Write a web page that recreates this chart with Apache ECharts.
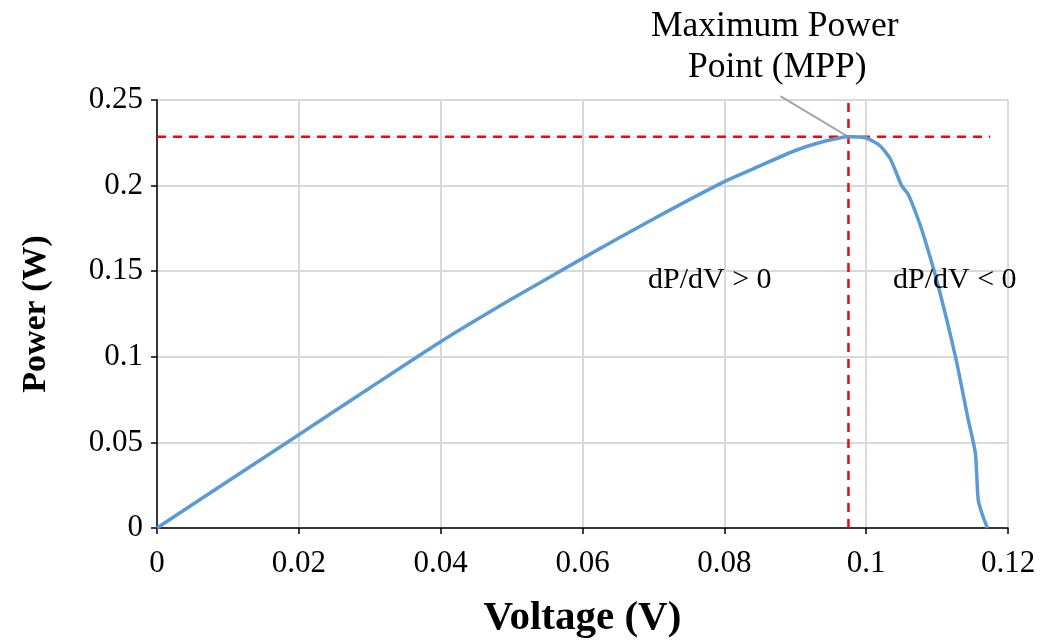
<!DOCTYPE html>
<html>
<head>
<meta charset="utf-8">
<script src="https://cdn.jsdelivr.net/npm/echarts@6/dist/echarts.min.js"></script>
<style>
  html, body { margin: 0; padding: 0; background: #fff; }
  #chart { width: 1047px; height: 641px; }
</style>
</head>
<body>
<div id="chart"></div>
<script>
// P-V curve: [voltage, power]
const pvCurve = [
  [0, 0], [0.01, 0.0273], [0.02, 0.0545], [0.03, 0.0818], [0.04, 0.1088],
  [0.05, 0.1337], [0.06, 0.1575], [0.07, 0.1805], [0.08, 0.2023],
  [0.085, 0.2115], [0.09, 0.2205], [0.0935, 0.2252], [0.0975, 0.2285],
  [0.1, 0.2278], [0.1019, 0.2234], [0.1034, 0.2157], [0.105, 0.2],
  [0.1059, 0.1951], [0.1072, 0.1818], [0.1083, 0.1682], [0.1102, 0.1408],
  [0.1126, 0.0999], [0.1144, 0.0631], [0.1154, 0.0438], [0.1158, 0.0164],
  [0.1165, 0.0064], [0.1171, 0]
]
const mppVertical = [[0.0975, 0], [0.0975, 0.25]]
const mppHorizontal = [[0, 0.2285], [0.1175, 0.2285]]
const leader = [[0.0879, 0.2523], [0.0975, 0.2285]]
const xTicks = [0, 0.02, 0.04, 0.06, 0.08, 0.1, 0.12]
const yTicks = [0, 0.05, 0.1, 0.15, 0.2, 0.25]

const serif = '"Liberation Serif", "Times New Roman", serif'
const chart = echarts.init(document.getElementById('chart'))

const dashed = {
  type: 'line',
  symbol: 'none',
  silent: true,
  lineStyle: { color: '#ff0000', width: 2.5, type: [9, 7] },
  z: 3
}

chart.setOption({
  animation: false,
  textStyle: { fontFamily: serif, color: '#000' },
  grid: { left: 157, right: 39, top: 100, bottom: 113, outerBoundsMode: 'none' },
  xAxis: {
    type: 'value',
    min: 0,
    max: 0.12,
    interval: 0.02,
    name: 'Voltage (V)',
    nameLocation: 'middle',
    nameGap: 70,
    nameTextStyle: { fontFamily: serif, fontSize: 41, fontWeight: 'bold', color: '#000' },
    axisLine: { lineStyle: { color: '#000', width: 1.5 } },
    axisTick: { show: true, length: 6, lineStyle: { color: '#000', width: 1.5 } },
    axisLabel: {
      fontFamily: serif, fontSize: 31, color: '#000', margin: 20,
      formatter: v => xTicks.includes(+v.toFixed(2)) ? String(+v.toFixed(2)) : ''
    },
    splitLine: { show: true, lineStyle: { color: '#d9d9d9', width: 2 } }
  },
  yAxis: {
    type: 'value',
    min: 0,
    max: 0.25,
    interval: 0.05,
    name: 'Power (W)',
    nameLocation: 'middle',
    nameGap: 104,
    nameTextStyle: { fontFamily: serif, fontSize: 34, fontWeight: 'bold', color: '#000' },
    axisLine: { show: true, lineStyle: { color: '#000', width: 1.5 } },
    axisTick: { show: true, length: 6, lineStyle: { color: '#000', width: 1.5 } },
    axisLabel: {
      fontFamily: serif, fontSize: 31, color: '#000', margin: 14,
      formatter: v => yTicks.includes(+v.toFixed(2)) ? String(+v.toFixed(2)) : ''
    },
    splitLine: { show: true, lineStyle: { color: '#d9d9d9', width: 2 } }
  },
  series: [
    Object.assign({ name: 'vline', data: mppVertical }, dashed),
    Object.assign({ name: 'hline', data: mppHorizontal }, dashed),
    {
      name: 'leader',
      type: 'line',
      symbol: 'none',
      silent: true,
      clip: false,
      data: leader,
      lineStyle: { color: '#a6a6a6', width: 2 },
      z: 2
    },
    {
      name: 'Power',
      type: 'line',
      symbol: 'none',
      smooth: 0.2,
      data: pvCurve,
      lineStyle: { color: '#5b9bd5', width: 3.5 },
      z: 4
    }
  ],
  graphic: [
    {
      type: 'text', left: 651, top: 9, z: 10,
      style: {
        text: 'Maximum Power', font: '35.5px ' + serif, fill: '#000'
      }
    },
    {
      type: 'text', left: 688, top: 50, z: 10,
      style: {
        text: 'Point (MPP)', font: '35.5px ' + serif, fill: '#000'
      }
    },
    {
      type: 'text', left: 648, top: 265, z: 10,
      style: { text: 'dP/dV > 0', font: '30px ' + serif, fill: '#000' }
    },
    {
      type: 'text', left: 893, top: 265, z: 10,
      style: { text: 'dP/dV < 0', font: '30px ' + serif, fill: '#000' }
    }
  ]
})
</script>
</body>
</html>
